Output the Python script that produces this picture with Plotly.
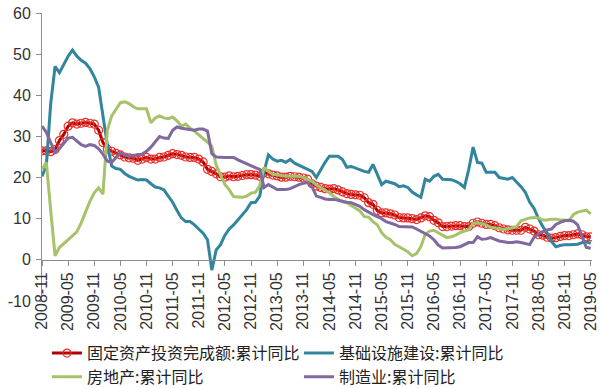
import pandas as pd
import plotly.graph_objects as go

# Monthly categories 2008-11 .. 2019-05
months = [p.strftime("%Y-%m") for p in pd.period_range("2008-11", "2019-05", freq="M")]
tick_labels = ["2008-11", "2009-05", "2009-11", "2010-05", "2010-11", "2011-05", "2011-11",
               "2012-05", "2012-11", "2013-05", "2013-11", "2014-05", "2014-11", "2015-05",
               "2015-11", "2016-05", "2016-11", "2017-05", "2017-11", "2018-05", "2018-11",
               "2019-05"]
y_tick_vals = [-10, 0, 10, 20, 30, 40, 50, 60]
y_tick_text = ["-10", "0", "10", "20", "30", "40", "50", "60"]

fai = [26.5, 26.5, 26.3, 26.8, 29.0, 30.5, 32.5, 33.3, 33.0, 33.2,
       33.4, 33.2, 33.0, 31.5, 28.5, 26.9, 26.4, 25.9, 25.5, 25.0,
       24.8, 24.7, 24.2, 24.5, 24.9, 24.5, 24.5, 24.9, 25.0, 25.4,
       25.8, 25.6, 25.4, 25.0, 24.9, 24.9, 24.5, 23.8, 22.0, 21.5,
       20.9, 20.2, 20.1, 20.4, 20.2, 20.3, 20.5, 20.7, 20.7, 20.6,
       20.3, 21.2, 20.9, 20.6, 20.4, 20.1, 20.1, 20.3, 20.2, 20.1,
       19.9, 19.6, 18.5, 17.9, 17.6, 17.3, 17.2, 17.3, 17.0, 16.5,
       16.1, 15.9, 15.8, 15.7, 15.1, 13.9, 13.5, 12.0, 11.4, 11.4,
       11.2, 10.9, 10.3, 10.2, 10.2, 10.0, 9.8, 10.2, 10.7, 10.5,
       9.6, 9.0, 8.1, 8.1, 8.2, 8.3, 8.3, 8.1, 8.1, 8.9,
       9.2, 8.9, 8.6, 8.6, 8.3, 7.8, 7.5, 7.3, 7.2, 7.2,
       7.2, 7.9, 7.5, 7.0, 6.1, 6.0, 5.5, 5.3, 5.4, 5.7,
       5.9, 5.9, 6.1, 6.3, 6.1, 5.6, 5.6]

infra = [20.3, 23.0, 38.0, 47.0, 45.5, 47.5, 49.5, 51.0, 49.5, 48.5,
         47.8, 46.5, 44.5, 42.0, 35.5, 28.0, 22.8, 22.2, 22.0, 21.0,
         20.3, 19.8, 19.4, 19.5, 19.4, 18.5, 17.7, 17.5, 17.0, 15.5,
         14.0, 12.0, 10.2, 9.3, 9.3, 8.5, 7.5, 6.5, 4.9, -2.5,
         2.4, 3.7, 6.0, 7.5, 8.5, 9.8, 11.0, 12.2, 13.9, 14.0,
         15.5, 21.5, 25.5, 24.5, 24.0, 24.2, 23.7, 24.4, 23.5, 23.0,
         22.5, 22.0, 21.5, 20.0, 22.0, 23.7, 25.2, 25.2, 25.2, 24.4,
         22.5, 22.7, 22.3, 22.0, 21.5, 21.3, 23.2, 20.8, 18.3, 19.1,
         18.8, 18.5, 17.8, 18.0, 17.6, 16.5, 15.8, 15.2, 19.6, 19.1,
         20.3, 20.8, 19.6, 19.6, 19.5, 19.1, 18.5, 17.6, 22.0, 27.4,
         23.7, 23.5, 21.3, 21.3, 21.3, 20.0, 19.8, 19.6, 20.0, 19.0,
         17.8, 16.4, 14.0, 12.5, 10.0, 8.1, 6.5, 4.5, 3.2, 3.5,
         3.7, 3.7, 3.7, 3.8, 4.2, 4.4, 4.0]

realestate = [22.0, 23.7, 12.0, 1.0, 3.0, 4.0, 5.0, 6.0, 6.8, 9.0,
              11.8, 14.2, 16.3, 17.5, 16.0, 31.5, 35.0, 36.7, 38.2, 38.4,
              38.0, 37.2, 36.7, 36.7, 36.7, 33.3, 34.5, 35.0, 34.5, 34.3,
              34.7, 33.8, 32.5, 33.0, 32.0, 31.3, 30.3, 29.5, 28.6, 27.6,
              23.0, 20.5, 18.3, 17.0, 15.4, 15.3, 15.2, 15.5, 16.2, 16.4,
              18.0, 22.5, 21.5, 20.8, 20.6, 20.5, 20.3, 20.3, 20.3, 20.3,
              20.0, 19.5, 19.1, 18.2, 17.6, 17.0, 16.3, 15.4, 14.8, 14.1,
              13.9, 13.3, 12.7, 11.9, 10.5, 10.4, 9.3, 8.5, 6.6, 5.5,
              4.9, 3.8, 3.2, 2.6, 2.0, 1.0, 1.5, 3.2, 6.2, 7.0,
              7.2, 6.6, 6.0, 5.4, 5.6, 6.0, 6.6, 6.9, 7.3, 8.9,
              9.1, 8.8, 8.5, 7.9, 7.8, 7.6, 7.4, 7.5, 7.8, 8.1,
              9.5, 9.8, 10.2, 10.3, 10.2, 9.7, 9.7, 9.9, 9.9, 9.7,
              9.7, 9.5, 11.0, 11.6, 11.8, 12.1, 11.2]

manufacturing = [32.5, 31.0, 28.5, 26.2, 27.0, 28.3, 29.6, 29.8, 28.9, 28.0,
                 27.6, 28.0, 27.8, 27.0, 25.7, 24.0, 23.7, 24.8, 26.0, 25.5,
                 25.2, 25.3, 25.6, 25.7, 26.4, 27.4, 28.8, 30.0, 29.6, 29.5,
                 31.5, 32.3, 32.0, 31.8, 31.6, 31.5, 31.8, 31.8, 31.3, 25.8,
                 25.0, 24.9, 24.9, 24.9, 24.9, 24.3, 23.8, 23.3, 22.8, 22.4,
                 22.0, 17.6, 18.3, 17.6, 17.1, 17.1, 17.1, 17.3, 17.8, 18.3,
                 18.6, 18.8, 17.8, 15.5, 15.2, 14.8, 14.7, 14.7, 14.5, 14.2,
                 14.0, 13.9, 13.5, 13.0, 12.2, 11.5, 11.0, 10.5, 10.0, 9.3,
                 9.0, 8.6, 8.1, 8.1, 8.1, 8.0, 7.5, 6.9, 6.5, 5.8,
                 4.9, 3.6, 2.9, 2.9, 2.9, 3.0, 3.2, 3.7, 4.2, 4.2,
                 5.6, 5.0, 5.1, 5.4, 5.0, 4.6, 4.4, 4.2, 4.2, 4.4,
                 4.2, 4.0, 3.7, 5.5, 6.3, 6.8, 7.3, 7.5, 8.6, 9.1,
                 9.5, 9.6, 9.4, 8.5, 5.9, 3.0, 2.8]

names = ["固定资产投资完成额:累计同比", "基础设施建设:累计同比", "房地产:累计同比", "制造业:累计同比"]

fig = go.Figure()
fig.add_trace(go.Scatter(x=months, y=fai, name=names[0], mode="lines+markers",
                         line=dict(color="#B00000", width=3),
                         marker=dict(symbol="circle-open", size=8, color="#E8302A",
                                     line=dict(width=1.2, color="#E8302A"))))
fig.add_trace(go.Scatter(x=months, y=infra, name=names[1], mode="lines",
                         line=dict(color="#31859C", width=3)))
fig.add_trace(go.Scatter(x=months, y=realestate, name=names[2], mode="lines",
                         line=dict(color="#A6C26A", width=3)))
fig.add_trace(go.Scatter(x=months, y=manufacturing, name=names[3], mode="lines",
                         line=dict(color="#7F699F", width=3)))

xfont = dict(family="Liberation Sans, Arial, sans-serif", size=16, color="#333333")
yfont = dict(family="Liberation Sans, Arial, sans-serif", size=16, color="#333333")

fig.update_layout(
    width=600, height=388, autosize=False,
    margin=dict(l=42, r=8, t=13, b=87, autoexpand=False),
    paper_bgcolor="white", plot_bgcolor="white",
    showlegend=True,
    legend=dict(orientation="h", x=0.009, xanchor="left", y=-0.122, yanchor="top",
                entrywidth=207, entrywidthmode="pixels", tracegroupgap=0,
                font=dict(family="Noto Sans CJK SC", size=16, color="#222222"),
                bgcolor="rgba(0,0,0,0)"),
    xaxis=dict(type="category", categoryorder="array", categoryarray=months,
               range=[0, 126.3], anchor="free", position=10 / 70, automargin=False,
               showline=True, linecolor="#8C8C8C", linewidth=1,
               ticks="outside", ticklen=5, tickcolor="#8C8C8C",
               tickmode="array", tickvals=tick_labels, ticktext=tick_labels,
               tickangle=-90, tickfont=xfont, showgrid=False, zeroline=False),
    yaxis=dict(range=[-10, 60], tickmode="array", tickvals=y_tick_vals, ticktext=y_tick_text,
               showline=True, linecolor="#8C8C8C",
               linewidth=1, ticks="outside", ticklen=5, tickcolor="#8C8C8C", automargin=False,
               ticklabeloverflow="allow", ticklabelstandoff=2,
               tickfont=yfont, showgrid=False, zeroline=False),
)

# remove the browser's default 8px page margin so the figure fills the window
fig.write_html("out.html", config={"displayModeBar": False},
               post_script="document.body.style.margin='0';")
